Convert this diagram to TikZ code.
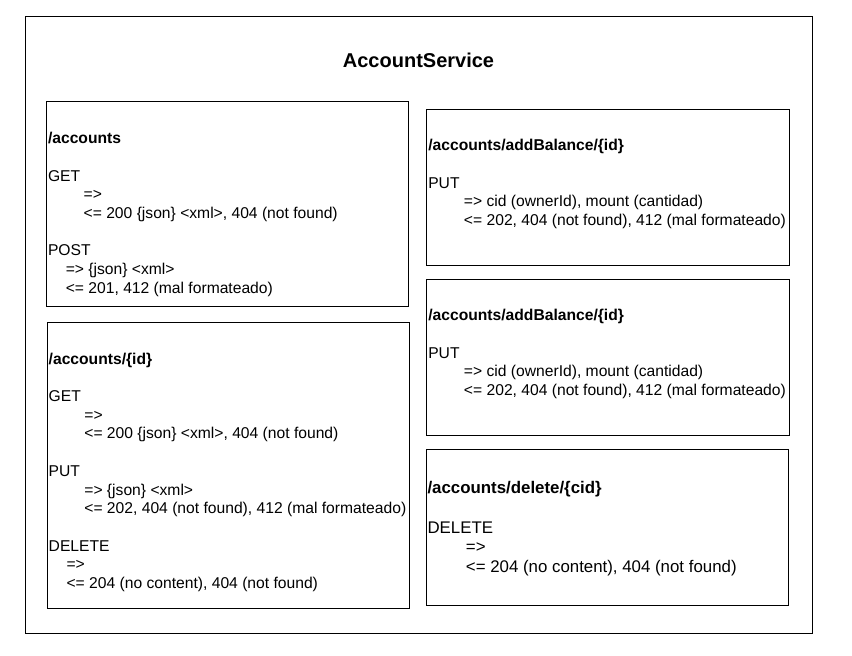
\documentclass[tikz,border=0pt]{standalone}
\usepackage{fontspec}
\setmainfont{Liberation Sans}
\newcommand{\indA}{\hspace*{2.28em}}
\newcommand{\indB}{\hspace*{1.14em}}
\newcommand{\fl}{\rule{0pt}{0.85em}}
\begin{document}
\begin{tikzpicture}[x=1pt,y=-1pt,
  box/.style={draw=black, line width=1pt, inner sep=0pt, outer sep=0pt, anchor=north west},
  txt/.style={inner sep=0pt, outer sep=0pt, anchor=north west, align=left, text=black,
    font=\fontsize{15.65}{18.7}\selectfont},
  txtbig/.style={txt, font=\fontsize{16.85}{19.8}\selectfont},
  ttl/.style={inner sep=0pt, outer sep=0pt, anchor=base, font=\fontsize{20}{24}\selectfont\bfseries}
]
\useasboundingbox (0,0) rectangle (852,656);
\fill[white] (0,0) rectangle (852,656);

% outer container
\node[box, minimum width=787pt, minimum height=617pt] (service) at (25,16) {};
\node[ttl] (title) at (418.5,67) {AccountService};

% boxes
\node[box, minimum width=362pt, minimum height=204.5pt] (accounts) at (46.5,101.5) {};
\node[box, minimum width=362pt, minimum height=286pt] (accountsid) at (47,322.5) {};
\node[box, minimum width=363pt, minimum height=156pt] (addbalA) at (426,109) {};
\node[box, minimum width=363pt, minimum height=155.5pt] (addbalB) at (426,279.5) {};
\node[box, minimum width=362pt, minimum height=156pt] (delete) at (426,449.5) {};

% texts
\node[txt] (accountsT) at (48,130.3) {\fl\textbf{/accounts}\\[18.7pt]
GET\\
\indA=>\\
\indA<= 200 \{json\} <xml>, 404 (not found)\\[18.7pt]
POST\\
\indB=> \{json\} <xml>\\
\indB<= 201, 412 (mal formateado)};

\node[txt] (accountsidT) at (48.7,350.8) {\fl\textbf{/accounts/\{id\}}\\[18.7pt]
GET\\
\indA=>\\
\indA<= 200 \{json\} <xml>, 404 (not found)\\[18.7pt]
PUT\\
\indA=> \{json\} <xml>\\
\indA<= 202, 404 (not found), 412 (mal formateado)\\[18.7pt]
DELETE\\
\indB=>\\
\indB<= 204 (no content), 404 (not found)};

\node[txt] (addbalAT) at (428.3,137.5) {\fl\textbf{/accounts/addBalance/\{id\}}\\[18.7pt]
PUT\\
\indA=> cid (ownerId), mount (cantidad)\\
\indA<= 202, 404 (not found), 412 (mal formateado)};

\node[txt] (addbalBT) at (428.3,307.5) {\fl\textbf{/accounts/addBalance/\{id\}}\\[18.7pt]
PUT\\
\indA=> cid (ownerId), mount (cantidad)\\
\indA<= 202, 404 (not found), 412 (mal formateado)};

\node[txtbig] (deleteT) at (427.5,479.1) {\fl\textbf{/accounts/delete/\{cid\}}\\[19.8pt]
DELETE\\
\indA=>\\
\indA<= 204 (no content), 404 (not found)};
\end{tikzpicture}
\end{document}
